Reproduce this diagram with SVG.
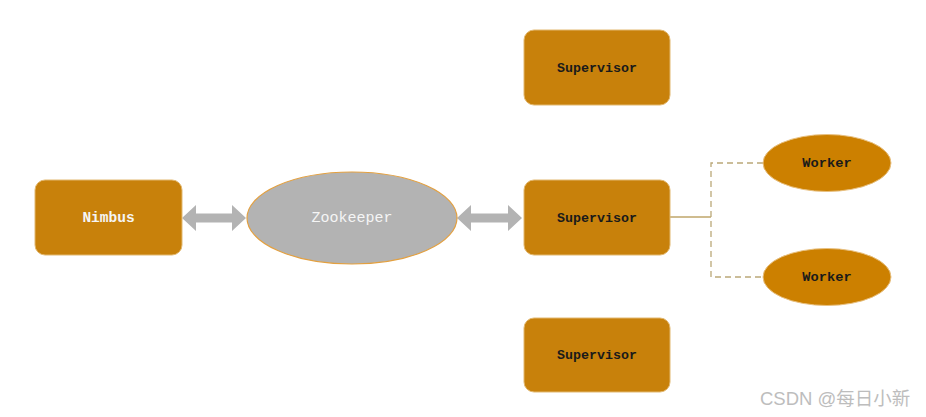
<svg xmlns="http://www.w3.org/2000/svg" width="926" height="417" viewBox="0 0 926 417">
<defs>
<style>
.box{fill:#C8810B;stroke:#E2B870;stroke-width:1}
.worker{fill:#CC8000;stroke:#E8C080;stroke-width:1}
.zk{fill:#B3B3B3;stroke:#E3A040;stroke-width:1.2}
.t{font-family:"Liberation Mono","DejaVu Sans Mono",monospace;font-size:13.3px;font-weight:bold;text-anchor:middle;dominant-baseline:central}
.dark{fill:#1a1a1a}
.light{fill:#F5F5F5}
.dash{fill:none;stroke:#BBA878;stroke-width:1.3;stroke-dasharray:6,4}
.solid{fill:none;stroke:#A07A20;stroke-width:1.2}
.arr{fill:#B3B3B3}
</style>
</defs>
<rect width="926" height="417" fill="#ffffff"/>
<g id="connectors">
<polygon class="arr" points="182,218 196,205 196,213.5 232,213.5 232,205 246,218 232,231 232,222.5 196,222.5 196,231"/>
<polygon class="arr" points="457,218 471,205 471,213.5 508,213.5 508,205 522,218 508,231 508,222.5 471,222.5 471,231"/>
<path class="solid" d="M670,217 H711"/>
<path class="dash" d="M763,163 H711 V277 H763"/>
</g>
<g id="nimbus">
<rect class="box" x="35" y="180" width="147" height="75" rx="10"/>
<text class="t light" x="108.5" y="218" style="font-size:14.5px">Nimbus</text>
</g>
<g id="zookeeper">
<ellipse class="zk" cx="352" cy="218" rx="105" ry="46"/>
<text class="t light" x="352" y="218" style="font-weight:normal;font-size:15px">Zookeeper</text>
</g>
<g id="supervisor1">
<rect class="box" x="524" y="30" width="146" height="75" rx="10"/>
<text class="t dark" x="597" y="68">Supervisor</text>
</g>
<g id="supervisor2">
<rect class="box" x="524" y="180" width="146" height="75" rx="10"/>
<text class="t dark" x="597" y="218">Supervisor</text>
</g>
<g id="supervisor3">
<rect class="box" x="524" y="318" width="146" height="74" rx="10"/>
<text class="t dark" x="597" y="355">Supervisor</text>
</g>
<g id="worker1">
<ellipse class="worker" cx="827" cy="163" rx="64" ry="28.5"/>
<text class="t dark" x="827" y="163" style="font-size:13.7px">Worker</text>
</g>
<g id="worker2">
<ellipse class="worker" cx="827" cy="277" rx="64" ry="28.5"/>
<text class="t dark" x="827" y="277" style="font-size:13.7px">Worker</text>
</g>
<text x="760" y="405" style="font-family:'Liberation Sans','Noto Sans CJK SC',sans-serif;font-size:18.5px;fill:#BDBDBD">CSDN @每日小新</text>
</svg>
